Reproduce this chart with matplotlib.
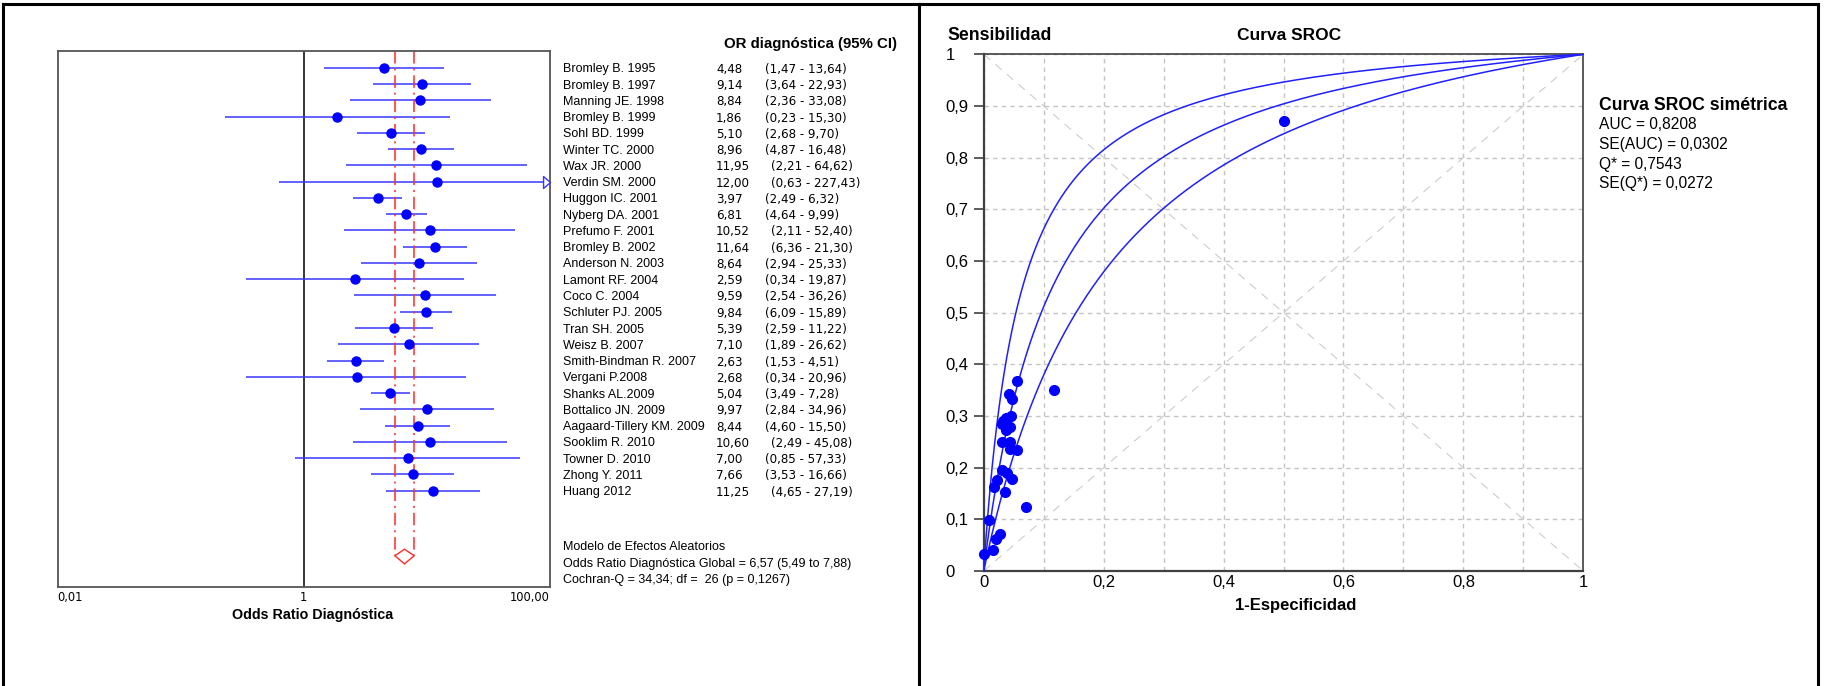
import numpy as np
import matplotlib
matplotlib.use('Agg')
import matplotlib.pyplot as plt
from matplotlib.lines import Line2D
from matplotlib.path import Path
from matplotlib.ticker import NullLocator
from matplotlib.transforms import blended_transform_factory

plt.rcParams['font.family'] = ['Liberation Sans', 'DejaVu Sans']
plt.rcParams['lines.scale_dashes'] = False
NUM_FONT = ['DejaVu Sans']

# --- forest plot data ---
studies = ["Bromley B. 1995", "Bromley B. 1997", "Manning JE. 1998", "Bromley B. 1999",
           "Sohl BD. 1999", "Winter TC. 2000", "Wax JR. 2000", "Verdin SM. 2000",
           "Huggon IC. 2001", "Nyberg DA. 2001", "Prefumo F. 2001", "Bromley B. 2002",
           "Anderson N. 2003", "Lamont RF. 2004", "Coco C. 2004", "Schluter PJ. 2005",
           "Tran SH. 2005", "Weisz B. 2007", "Smith-Bindman R. 2007", "Vergani P.2008",
           "Shanks AL.2009", "Bottalico JN. 2009", "Aagaard-Tillery KM. 2009",
           "Sooklim R. 2010", "Towner D. 2010", "Zhong Y. 2011", "Huang 2012"]
odds_ratio = [4.48, 9.14, 8.84, 1.86, 5.10, 8.96, 11.95, 12.00, 3.97, 6.81, 10.52, 11.64,
              8.64, 2.59, 9.59, 9.84, 5.39, 7.10, 2.63, 2.68, 5.04, 9.97, 8.44, 10.60,
              7.00, 7.66, 11.25]
ci_low = [1.47, 3.64, 2.36, 0.23, 2.68, 4.87, 2.21, 0.63, 2.49, 4.64, 2.11, 6.36, 2.94,
          0.34, 2.54, 6.09, 2.59, 1.89, 1.53, 0.34, 3.49, 2.84, 4.60, 2.49, 0.85, 3.53, 4.65]
ci_high = [13.64, 22.93, 33.08, 15.30, 9.70, 16.48, 64.62, 227.43, 6.32, 9.99, 52.40,
           21.30, 25.33, 19.87, 36.26, 15.89, 11.22, 26.62, 4.51, 20.96, 7.28, 34.96,
           15.50, 45.08, 57.33, 16.66, 27.19]

pooled_or = 6.57
pooled_low = 5.49
pooled_high = 7.88
cochran_q = 34.34
q_df = 26
q_p = 0.1267

# --- SROC data: (1 - specificity, sensitivity) per study ---
fpr = [0.056, 0.117, 0.042, 0.048, 0.046, 0.037, 0.031, 0.044, 0.037, 0.030, 0.044,
       0.044, 0.056, 0.031, 0.039, 0.047, 0.023, 0.018, 0.036, 0.071, 0.009, 0.028,
       0.021, 0.015, 0.001, 0.501, 0.033]
tpr = [0.368, 0.350, 0.342, 0.333, 0.300, 0.297, 0.284, 0.279, 0.273, 0.250, 0.250,
       0.236, 0.234, 0.195, 0.189, 0.179, 0.176, 0.162, 0.152, 0.124, 0.099, 0.072,
       0.061, 0.041, 0.033, 0.871, 0.290]

auc = 0.8208
se_auc = 0.0302
q_star = 0.7543
se_q_star = 0.0272

W, H = 1825, 686
fig = plt.figure(figsize=(W / 100, H / 100), dpi=100)


def fx(px):
    return px / W


def fy(py):
    return 1 - py / H


def comma(v, nd=2):
    return f'{v:.{nd}f}'.replace('.', ',')


# panel frames
frame = dict(color='black', lw=2.2)
fig.add_artist(Line2D([fx(3), fx(1818)], [fy(4), fy(4)], **frame))
for xp in (3, 919, 1818):
    fig.add_artist(Line2D([fx(xp), fx(xp)], [fy(4), 0], **frame))

# ---------------- forest plot ----------------
ax1 = fig.add_axes([fx(57.7), fy(587.3), (550 - 57.7) / W, (587.3 - 50.7) / H])
ax1.set_xscale('log')
ax1.set_xlim(0.01, 100)
ax1.set_ylim(31.94, -1.05)
rows = np.arange(len(studies))

ax1.axvline(1, color='black', lw=1.1, zorder=1)
ax1.hlines(rows, ci_low, ci_high, color='#3838ff', lw=1.1, zorder=2)
ax1.plot(odds_ratio, rows, 'o', color='#0000ff', ms=6.5, ls='none', zorder=3)

# open arrow where the interval runs past the axis
arrow = Path([(-1.17, -1), (0, 0), (-1.17, 1), (-1.17, -1)],
             [Path.MOVETO, Path.LINETO, Path.LINETO, Path.CLOSEPOLY])
over = np.array(ci_high) > 100
ax1.plot(np.full(over.sum(), 100.0), rows[over], marker=arrow, ms=10, ls='none',
         mfc='white', mec='#3838ff', mew=1, clip_on=False, zorder=4)

# pooled estimate
for v in (pooled_low, pooled_high):
    ax1.plot([v, v], [-1.05, 30], color='#ff2a2a', lw=1.1, ls=(0, (9, 3.5, 1.5, 3.5)))
ax1.fill([pooled_low, pooled_or, pooled_high, pooled_or], [30, 29.6, 30, 30.5],
         facecolor='none', edgecolor='#ff2a2a', lw=1)

for s in ax1.spines.values():
    s.set_color('#555555')
    s.set_linewidth(1.3)
ax1.set_yticks([])
ax1.set_xticks([0.01, 1, 100], ['0,01', '1', '100,00'])
ax1.xaxis.set_minor_locator(NullLocator())
ax1.tick_params(axis='x', length=0, pad=3)
xl = ax1.get_xticklabels()
for lab in xl:
    lab.set_family(NUM_FONT)
    lab.set_fontsize(8.3)
xl[0].set_ha('left')
xl[2].set_ha('right')

fig.text(fx(312.5), fy(614.5), 'Odds Ratio Diagnóstica', ha='center', va='center',
         fontsize=10.3, fontweight='bold')

# study table
trans = blended_transform_factory(fig.transFigure, ax1.transData)
fig.text(fx(724), fy(44), 'OR diagnóstica (95% CI)', ha='left', va='center',
         fontsize=10.8, fontweight='bold')
for i, name in enumerate(studies):
    val = comma(odds_ratio[i])
    ax1.text(fx(562.7), i, name, transform=trans, ha='left', va='center_baseline',
             fontsize=9)
    ax1.text(fx(716), i, val, transform=trans, ha='left', va='center_baseline',
             fontsize=8.6, family=NUM_FONT)
    ci_x = 765 if len(val) == 4 else 771
    ax1.text(fx(ci_x), i, f'({comma(ci_low[i])} - {comma(ci_high[i])})',
             transform=trans, ha='left', va='center_baseline', fontsize=8.6,
             family=NUM_FONT)

footer = ['Modelo de Efectos Aleatorios',
          f'Odds Ratio Diagnóstica Global = {comma(pooled_or)} '
          f'({comma(pooled_low)} to {comma(pooled_high)})',
          f'Cochran-Q = {comma(cochran_q)}; df =  {q_df} (p = {comma(q_p, 4)})']
for yp, line in zip((546, 562.5, 578.5), footer):
    fig.text(fx(563.3), fy(yp), line, ha='left', va='center_baseline', fontsize=9)

# ---------------- SROC curve ----------------
ax2 = fig.add_axes([fx(983.7), fy(571), (1583.3 - 983.7) / W, (571 - 54.3) / H])
ax2.set_xlim(0, 1)
ax2.set_ylim(0, 1)

steps = np.round(np.arange(0, 1.01, 0.1), 1)


def tick_text(v):
    if v in (0, 1):
        return str(int(v))
    return comma(v, 1)


ax2.set_xticks(steps, [tick_text(v) if round(v * 10) % 2 == 0 else '' for v in steps])
ax2.set_yticks(steps, [tick_text(v) for v in steps])
ax2.grid(True, color='#c4c4c4', lw=1, ls=(0, (3.2, 3)))
ax2.set_axisbelow(True)

diag = dict(color='#cccccc', lw=0.8, ls=(0, (6, 5)), zorder=1)
ax2.plot([0, 1], [0, 1], **diag)
ax2.plot([0, 1], [1, 0], **diag)

# symmetric SROC with Q* and its 95% band
f = np.linspace(0, 1, 2001)
for q in (q_star + 1.96 * se_q_star, q_star, q_star - 1.96 * se_q_star):
    dor = (q / (1 - q)) ** 2
    ax2.plot(f, dor * f / (dor * f + 1 - f), color='#1f1fff', lw=1.1, zorder=3)

ax2.plot(fpr, tpr, 'o', color='#0000ff', ms=7, ls='none', clip_on=False, zorder=4)

for side, s in ax2.spines.items():
    s.set_color('#404040')
    s.set_linewidth(1.6 if side in ('left', 'bottom') else 1.2)
ax2.tick_params(axis='x', length=0, pad=3, labelsize=12)
ax2.tick_params(axis='y', direction='out', length=7, width=1.2, color='#404040',
                pad=20.5, labelsize=12)
for lab in ax2.get_yticklabels():
    lab.set_ha('left')

fig.text(fx(947), fy(35), 'Sensibilidad', ha='left', va='center', fontsize=12.7,
         fontweight='bold')
fig.text(fx(1289), fy(35), 'Curva SROC', ha='center', va='center', fontsize=12.5,
         fontweight='bold')
fig.text(fx(1296), fy(605.5), '1-Especificidad', ha='center', va='center', fontsize=12,
         fontweight='bold')

fig.text(fx(1599.3), fy(105.3), 'Curva SROC simétrica', ha='left', va='center',
         fontsize=12.7, fontweight='bold')
stats = [f'AUC = {comma(auc, 4)}', f'SE(AUC) = {comma(se_auc, 4)}',
         f'Q* = {comma(q_star, 4)}', f'SE(Q*) = {comma(se_q_star, 4)}']
for yp, line in zip((124.3, 144.5, 164.3, 183.5), stats):
    fig.text(fx(1599.3), fy(yp), line, ha='left', va='center', fontsize=11.2)

fig.savefig('out.png', dpi=100, facecolor='white')
